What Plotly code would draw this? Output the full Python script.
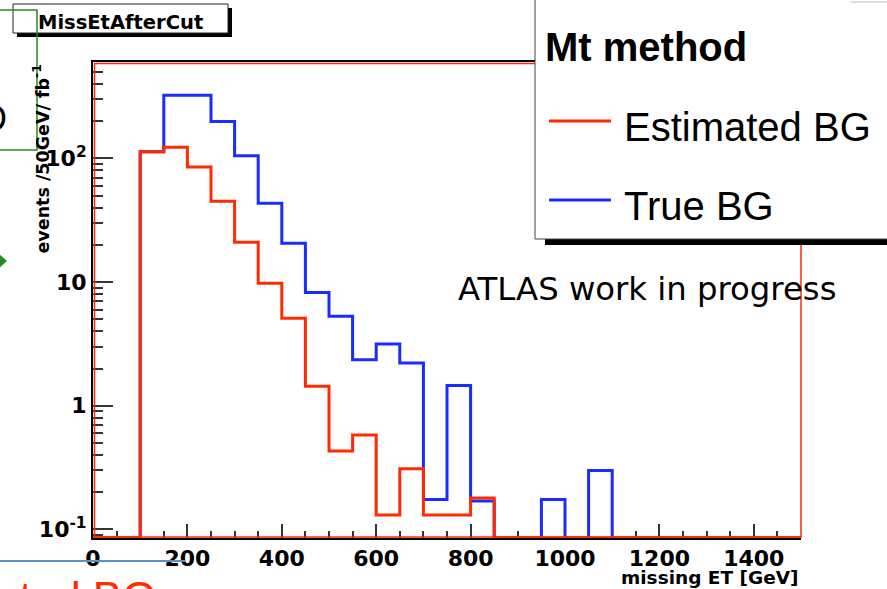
import plotly.graph_objects as go

# ---- histogram contents: missing ET after cut, 50 GeV bins, 0-1500 GeV ----
bin_edges = list(range(0, 1550, 50))

estimated_bg = [0, 0, 113, 123, 85, 45, 21, 9.8, 5.1, 1.44,
                0.43, 0.58, 0.131, 0.31, 0.131, 0.131, 0.18, 0, 0, 0,
                0, 0, 0, 0, 0, 0, 0, 0, 0, 0]
true_bg = [0, 0, 113, 324, 324, 199, 105, 43.4, 20.6, 8.25,
           5.28, 2.36, 3.16, 2.22, 0.175, 1.46, 0.17, 0, 0, 0.175,
           0, 0.30, 0, 0, 0, 0, 0, 0, 0, 0]

x_major_ticks = [0, 200, 400, 600, 800, 1000, 1200, 1400]
y_major_ticks = [0.1, 1, 10, 100]
y_tick_labels = ["10<sup>-1</sup>", "1", "10", "10<sup>2</sup>"]
y_minor_ticks = [m * 10 ** k for k in range(-2, 3) for m in range(2, 10)
                 if 0.085 <= m * 10 ** k <= 601]

X_RANGE = [0, 1500]
Y_RANGE = [-1.069, 2.779]          # log10 of the axis limits
FLOOR = 10 ** Y_RANGE[0]           # empty bins sit on the frame bottom

RED = "#ff2a00"
BLUE = "#1a2cff"

W, H = 887, 589
ML, MR, MT, MB = 93, 86, 62, 51
PW, PH = W - ML - MR, H - MT - MB


def px(x):
    """pixel column -> paper x"""
    return (x - ML) / PW


def py(y):
    """pixel row -> paper y"""
    return (H - MB - y) / PH


def step(values):
    shown = [v if v > 0 else FLOOR for v in values]
    return bin_edges, shown + [shown[-1]]


fig = go.Figure()
for name, vals, col in [("True BG", true_bg, BLUE), ("Estimated BG", estimated_bg, RED)]:
    xs, ys = step(vals)
    fig.add_trace(go.Scatter(x=xs, y=ys, mode="lines", name=name,
                             line=dict(color=col, width=3, shape="hv"),
                             showlegend=False, hoverinfo="skip"))

tick_font = dict(family="DejaVu Sans", size=22, color="black", weight="bold")

fig.update_layout(
    width=W, height=H, autosize=False,
    margin=dict(l=ML, r=MR, t=MT, b=MB, pad=0),
    paper_bgcolor="white", plot_bgcolor="white",
    xaxis=dict(range=X_RANGE, tickmode="array", tickvals=x_major_ticks,
               ticks="inside", ticklen=14, tickwidth=1.5, tickcolor="#333",
               minor=dict(dtick=50, tick0=0, ticks="inside", ticklen=7,
                          tickwidth=1.5, tickcolor="#333", showgrid=False),
               showgrid=False, zeroline=False, showline=True, linecolor="black",
               linewidth=2, mirror=True, layer="below traces",
               tickfont=tick_font),
    yaxis=dict(type="log", range=Y_RANGE, tickmode="array",
               tickvals=y_major_ticks, ticktext=y_tick_labels,
               ticks="inside", ticklen=20, tickwidth=1.5, tickcolor="#333",
               minor=dict(tickmode="array", tickvals=y_minor_ticks, ticks="inside",
                          ticklen=10, tickwidth=1.5, tickcolor="#333", showgrid=False),
               showgrid=False, zeroline=False, showline=True, linecolor="black",
               linewidth=2, layer="below traces", tickfont=tick_font),
)

shapes = []
# frame
shapes.append(dict(type="rect", xref="paper", yref="paper",
                   x0=px(ML + 1.5), x1=px(ML + PW), y0=py(H - MB - 1), y1=py(MT + 1.5),
                   line=dict(color=RED, width=1.5), layer="above"))
# title box with drop shadow
shapes.append(dict(type="rect", xref="paper", yref="paper", x0=px(17), x1=px(232),
                   y0=py(37), y1=py(8), fillcolor="black", line=dict(width=0), layer="above"))
shapes.append(dict(type="rect", xref="paper", yref="paper", x0=px(13), x1=px(228),
                   y0=py(33), y1=py(4), fillcolor="white",
                   line=dict(color="#222", width=1), layer="above"))
# legend box with drop shadow
shapes.append(dict(type="rect", xref="paper", yref="paper", x0=px(545), x1=px(895),
                   y0=py(245), y1=py(230), fillcolor="black", line=dict(width=0), layer="above"))
shapes.append(dict(type="rect", xref="paper", yref="paper", x0=px(535), x1=px(895),
                   y0=py(239), y1=py(-5), fillcolor="white",
                   line=dict(color="#444", width=1), layer="above"))
for yy, col in [(121, RED), (200, BLUE)]:
    shapes.append(dict(type="line", xref="paper", yref="paper", x0=px(549), x1=px(611),
                       y0=py(yy), y1=py(yy), line=dict(color=col, width=3), layer="above"))
# slide leftovers around the canvas
shapes.append(dict(type="path", xref="paper", yref="paper",
                   path=f"M {px(-3)},{py(10)} L {px(37)},{py(10)} L {px(37)},{py(150)} L {px(-3)},{py(150)}",
                   line=dict(color="#1f8f1f", width=1.5), layer="above"))
shapes.append(dict(type="path", xref="paper", yref="paper",
                   path=f"M {px(-3)},{py(252)} L {px(7)},{py(261)} L {px(-3)},{py(270)} Z",
                   fillcolor="#1f8f1f", line=dict(width=0), layer="above"))
shapes.append(dict(type="line", xref="paper", yref="paper", x0=px(-3), x1=px(185),
                   y0=py(561), y1=py(561), line=dict(color="#5e8fc5", width=2), layer="above"))
shapes.append(dict(type="line", xref="paper", yref="paper", x0=px(851), x1=px(890),
                   y0=py(2), y1=py(2), line=dict(color="#bbbbbb", width=1), layer="above"))
fig.update_layout(shapes=shapes)

bold = dict(family="DejaVu Sans", color="black", weight="bold")
ann = []
ann.append(dict(text="MissEtAfterCut", x=px(36), y=py(22), xanchor="left", yanchor="middle",
                font=dict(size=19.5, **bold)))
ann.append(dict(text="events /50GeV/ fb<sup>-1</sup>", textangle=-90, x=px(41), y=py(63),
                xanchor="center", yanchor="top", font=dict(size=17.5, **bold)))
ann.append(dict(text="missing ET [GeV]", x=px(801), y=py(577), xanchor="right",
                yanchor="middle", font=dict(size=18.5, **bold)))
ann.append(dict(text="ATLAS work in progress", x=px(456), y=py(289), xanchor="left",
                yanchor="middle", font=dict(family="DejaVu Sans", size=32.3, color="black")))
ann.append(dict(text="<b>Mt method</b>", x=px(543), y=py(47), xanchor="left", yanchor="middle",
                font=dict(family="Liberation Sans", size=40, color="black")))
ann.append(dict(text="Estimated BG", x=px(622), y=py(127), xanchor="left", yanchor="middle",
                font=dict(family="Liberation Sans", size=40, color="black")))
ann.append(dict(text="True BG", x=px(622), y=py(206), xanchor="left", yanchor="middle",
                font=dict(family="Liberation Sans", size=40, color="black")))
ann.append(dict(text="D", x=px(9), y=py(118), xanchor="right", yanchor="middle",
                font=dict(family="Liberation Sans", size=36, color="black")))
ann.append(dict(text="Estimated BG", x=px(158), y=py(571), xanchor="right", yanchor="top",
                font=dict(family="Liberation Sans", size=44, color=RED)))
for a in ann:
    a.update(xref="paper", yref="paper", showarrow=False)
fig.update_layout(annotations=ann)

fig.write_html("out.html")
